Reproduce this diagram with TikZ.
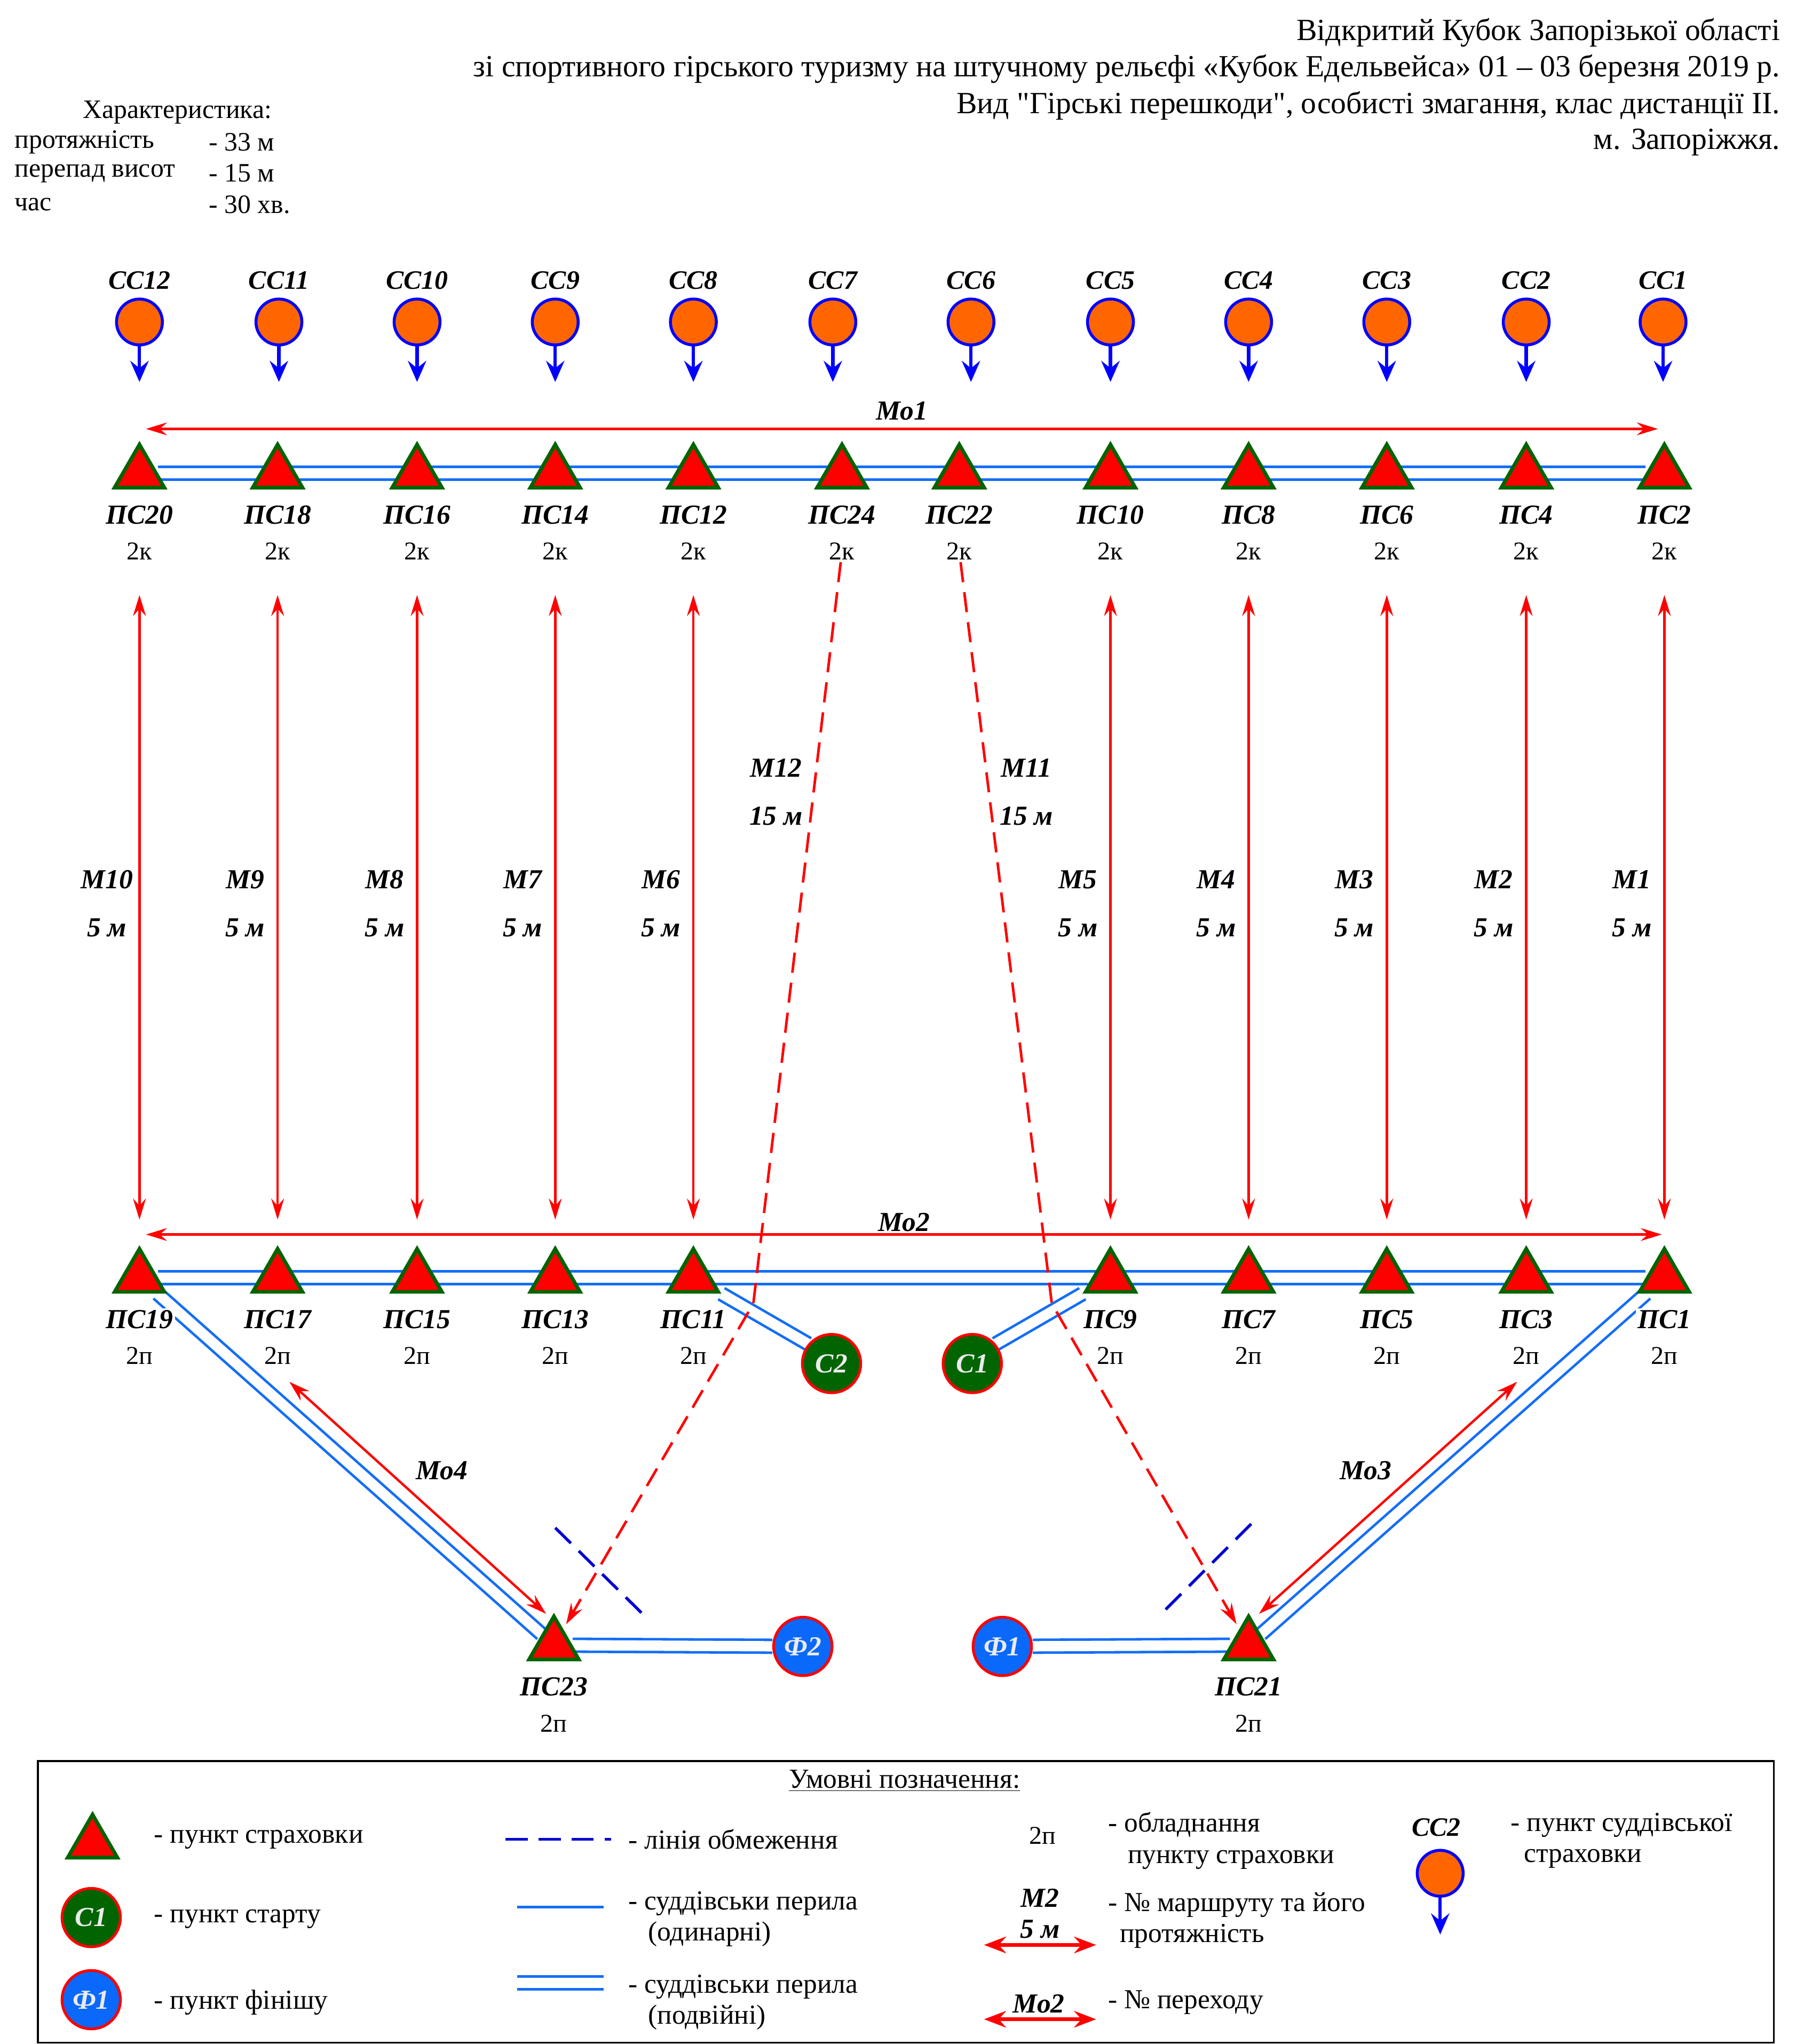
\documentclass[tikz,border=0pt]{standalone}
\usepackage{fontspec}
\setmainfont{Liberation Serif}
\newfontfamily\plainrm{Liberation Serif}
\usepackage{tikz}
\usepackage{xcolor}
\usetikzlibrary{shapes.geometric,arrows.meta,backgrounds}
\definecolor{railblue}{RGB}{20,110,245}
\definecolor{dkgreen}{RGB}{0,100,0}
\definecolor{ccorange}{RGB}{255,102,0}
\definecolor{finblue}{RGB}{10,105,250}
\definecolor{limblue}{RGB}{0,0,210}
\definecolor{pale}{RGB}{235,235,235}
\tikzstyle{belay} = [regular polygon,
                     regular polygon sides=3,
                     minimum size=1.1cm,
                     inner sep=0pt,
                     draw=dkgreen,
                     line width=2pt,
                     fill=red]
\tikzstyle{judge} = [circle,
                     minimum size=0.88cm,
                     inner sep=0pt,
                     draw=blue,
                     line width=1.6pt,
                     fill=ccorange]
\tikzstyle{startpt} = [circle,
                       minimum size=1.12cm,
                       inner sep=0pt,
                       draw=red,
                       line width=1.5pt,
                       fill=dkgreen,
                       text=pale,
                       font=\bfseries\itshape\fontsize{15}{18}\selectfont]
\tikzstyle{finishpt} = [startpt,
                        fill=finblue]
\tikzstyle{pslabel} = [font=\bfseries\itshape\fontsize{15}{18}\selectfont,
                       fill=white,
                       inner sep=1pt]
\tikzstyle{equip} = [font=\fontsize{14}{17}\selectfont,
                     fill=white,
                     inner sep=1pt]
\tikzstyle{head} = [font=\fontsize{14.5}{17}\selectfont,
                    anchor=west,
                    inner sep=0pt]
\tikzstyle{cclabel} = [font=\bfseries\itshape\fontsize{14.5}{17}\selectfont]
\tikzstyle{mlabel} = [font=\bfseries\itshape\fontsize{15}{26.3}\selectfont,
                      text=black,
                      align=center]
\tikzstyle{molabel} = [font=\bfseries\itshape\fontsize{15}{18}\selectfont,
                       text=black]
\tikzstyle{rail} = [draw=railblue,
                    line width=1.4pt,
                    double=white,
                    double distance=5.6pt]
\tikzstyle{arrow} = [red,
                     line width=1.3pt,
                     <->,
                     >={Stealth[length=11.5pt,width=7pt,inset=4pt]}]
\tikzstyle{route} = [red,
                     line width=1.4pt,
                     dash pattern=on 11pt off 5.5pt,
                     ->,
                     >={Stealth[length=11.5pt,width=7pt,inset=4pt]}]
\tikzstyle{ccarrow} = [blue,
                       line width=1.8pt,
                       ->,
                       >={Stealth[length=11.5pt,width=10pt,inset=4pt]}]
\tikzstyle{limit} = [limblue,
                     line width=1.6pt,
                     dash pattern=on 12pt off 6pt]
\tikzstyle{legtext} = [font=\fontsize{15}{17}\selectfont,
                       anchor=west,
                       inner sep=0pt,
                       align=left]
\tikzstyle{legarrow} = [red,
                        line width=2.1pt,
                        <->,
                        >={Stealth[length=12pt,width=9pt,inset=4pt]}]

\begin{document}
\begin{tikzpicture}[x=0.025cm, y=-0.025cm, node distance=0.7cm]
    \useasboundingbox (0,0) rectangle (1384,1568);

    % heading
    \node (title1) [anchor=east, inner sep=0pt, font=\plainrm\fontsize{16.8}{20}\selectfont] at (1366,25)  {Відкритий Кубок Запорізької області};
    \node (title2) [anchor=east, inner sep=0pt, font=\plainrm\fontsize{16.8}{20}\selectfont] at (1366,53)  {зі спортивного гірського туризму на штучному рельєфі «Кубок Едельвейса» 01 – 03 березня 2019 р.};
    \node (title3) [anchor=east, inner sep=0pt, font=\plainrm\fontsize{16.8}{20}\selectfont] at (1366,81)  {Вид "Гірські перешкоди", особисті змагання, клас дистанції ІІ.};
    \node (title4) [anchor=east, inner sep=0pt, font=\plainrm\fontsize{16.8}{20}\selectfont] at (1366,109) {м. Запоріжжя.};

    \node (char)  [font=\fontsize{14.5}{17}\selectfont] at (136,86) {Характеристика:};
    \node (len)   [head] at (11,109)  {протяжність};
    \node (lenv)  [head] at (160,109) {- 33 м};
    \node (drop)  [head] at (11,133)  {перепад висот};
    \node (dropv) [head] at (160,133) {- 15 м};
    \node (time)  [head] at (11,157)  {час};
    \node (timev) [head] at (160,157) {- 30 хв.};

    % judges
    \node (cc12) [judge] at (107,247)  {};
    \node (cc11) [judge] at (214,247)  {};
    \node (cc10) [judge] at (320,247)  {};
    \node (cc9)  [judge] at (426,247)  {};
    \node (cc8)  [judge] at (532,247)  {};
    \node (cc7)  [judge] at (639,247)  {};
    \node (cc6)  [judge] at (745,247)  {};
    \node (cc5)  [judge] at (852,247)  {};
    \node (cc4)  [judge] at (958,247)  {};
    \node (cc3)  [judge] at (1064,247) {};
    \node (cc2)  [judge] at (1171,247) {};
    \node (cc1)  [judge] at (1276,247) {};

    \node (n12) [cclabel, above of=cc12, yshift=0.1cm] {СС12};
    \node (n11) [cclabel, above of=cc11, yshift=0.1cm] {СС11};
    \node (n10) [cclabel, above of=cc10, yshift=0.1cm] {СС10};
    \node (n9)  [cclabel, above of=cc9,  yshift=0.1cm] {СС9};
    \node (n8)  [cclabel, above of=cc8,  yshift=0.1cm] {СС8};
    \node (n7)  [cclabel, above of=cc7,  yshift=0.1cm] {СС7};
    \node (n6)  [cclabel, above of=cc6,  yshift=0.1cm] {СС6};
    \node (n5)  [cclabel, above of=cc5,  yshift=0.1cm] {СС5};
    \node (n4)  [cclabel, above of=cc4,  yshift=0.1cm] {СС4};
    \node (n3)  [cclabel, above of=cc3,  yshift=0.1cm] {СС3};
    \node (n2)  [cclabel, above of=cc2,  yshift=0.1cm] {СС2};
    \node (n1)  [cclabel, above of=cc1,  yshift=0.1cm] {СС1};

    \coordinate (t12) at (107,293);
    \coordinate (t11) at (214,293);
    \coordinate (t10) at (320,293);
    \coordinate (t9)  at (426,293);
    \coordinate (t8)  at (532,293);
    \coordinate (t7)  at (639,293);
    \coordinate (t6)  at (745,293);
    \coordinate (t5)  at (852,293);
    \coordinate (t4)  at (958,293);
    \coordinate (t3)  at (1064,293);
    \coordinate (t2)  at (1171,293);
    \coordinate (t1)  at (1276,293);

    % upper points
    \node (ps20) [belay] at (107,363)  {};
    \node (ps18) [belay] at (213,363)  {};
    \node (ps16) [belay] at (320,363)  {};
    \node (ps14) [belay] at (426,363)  {};
    \node (ps12) [belay] at (532,363)  {};
    \node (ps24) [belay] at (646,363)  {};
    \node (ps22) [belay] at (736,363)  {};
    \node (ps10) [belay] at (852,363)  {};
    \node (ps8)  [belay] at (958,363)  {};
    \node (ps6)  [belay] at (1064,363) {};
    \node (ps4)  [belay] at (1171,363) {};
    \node (ps2)  [belay] at (1277,363) {};

    \node (l20) [pslabel, below of=ps20, yshift=-0.1cm] {ПС20};
    \node (l18) [pslabel, below of=ps18, yshift=-0.1cm] {ПС18};
    \node (l16) [pslabel, below of=ps16, yshift=-0.1cm] {ПС16};
    \node (l14) [pslabel, below of=ps14, yshift=-0.1cm] {ПС14};
    \node (l12) [pslabel, below of=ps12, yshift=-0.1cm] {ПС12};
    \node (l24) [pslabel, below of=ps24, yshift=-0.1cm] {ПС24};
    \node (l22) [pslabel, below of=ps22, yshift=-0.1cm] {ПС22};
    \node (l10) [pslabel, below of=ps10, yshift=-0.1cm] {ПС10};
    \node (l8)  [pslabel, below of=ps8,  yshift=-0.1cm] {ПС8};
    \node (l6)  [pslabel, below of=ps6,  yshift=-0.1cm] {ПС6};
    \node (l4)  [pslabel, below of=ps4,  yshift=-0.1cm] {ПС4};
    \node (l2)  [pslabel, below of=ps2,  yshift=-0.1cm] {ПС2};

    \node (k20) [equip, below of=l20] {2к};
    \node (k18) [equip, below of=l18] {2к};
    \node (k16) [equip, below of=l16] {2к};
    \node (k14) [equip, below of=l14] {2к};
    \node (k12) [equip, below of=l12] {2к};
    \node (k24) [equip, below of=l24] {2к};
    \node (k22) [equip, below of=l22] {2к};
    \node (k10) [equip, below of=l10] {2к};
    \node (k8)  [equip, below of=l8]  {2к};
    \node (k6)  [equip, below of=l6]  {2к};
    \node (k4)  [equip, below of=l4]  {2к};
    \node (k2)  [equip, below of=l2]  {2к};

    % lower points
    \node (ps19) [belay] at (107,980)  {};
    \node (ps17) [belay] at (213,980)  {};
    \node (ps15) [belay] at (320,980)  {};
    \node (ps13) [belay] at (426,980)  {};
    \node (ps11) [belay] at (532,980)  {};
    \node (ps9)  [belay] at (852,980)  {};
    \node (ps7)  [belay] at (958,980)  {};
    \node (ps5)  [belay] at (1064,980) {};
    \node (ps3)  [belay] at (1171,980) {};
    \node (ps1)  [belay] at (1277,980) {};
    \node (ps23) [belay] at (425,1262) {};
    \node (ps21) [belay] at (958,1262) {};

    \node (l19) [pslabel, below of=ps19, yshift=-0.1cm] {ПС19};
    \node (l17) [pslabel, below of=ps17, yshift=-0.1cm] {ПС17};
    \node (l15) [pslabel, below of=ps15, yshift=-0.1cm] {ПС15};
    \node (l13) [pslabel, below of=ps13, yshift=-0.1cm] {ПС13};
    \node (l11) [pslabel, below of=ps11, yshift=-0.1cm] {ПС11};
    \node (l9)  [pslabel, below of=ps9,  yshift=-0.1cm] {ПС9};
    \node (l7)  [pslabel, below of=ps7,  yshift=-0.1cm] {ПС7};
    \node (l5)  [pslabel, below of=ps5,  yshift=-0.1cm] {ПС5};
    \node (l3)  [pslabel, below of=ps3,  yshift=-0.1cm] {ПС3};
    \node (l1)  [pslabel, below of=ps1,  yshift=-0.1cm] {ПС1};
    \node (l23) [pslabel, below of=ps23, yshift=-0.1cm] {ПС23};
    \node (l21) [pslabel, below of=ps21, yshift=-0.1cm] {ПС21};

    \node (p19) [equip, below of=l19] {2п};
    \node (p17) [equip, below of=l17] {2п};
    \node (p15) [equip, below of=l15] {2п};
    \node (p13) [equip, below of=l13] {2п};
    \node (p11) [equip, below of=l11] {2п};
    \node (p9)  [equip, below of=l9]  {2п};
    \node (p7)  [equip, below of=l7]  {2п};
    \node (p5)  [equip, below of=l5]  {2п};
    \node (p3)  [equip, below of=l3]  {2п};
    \node (p1)  [equip, below of=l1]  {2п};
    \node (p23) [equip, below of=l23] {2п};
    \node (p21) [equip, below of=l21] {2п};

    \node (c2) [startpt]  at (638,1046) {С2};
    \node (c1) [startpt]  at (746,1046) {С1};
    \node (f2) [finishpt] at (616,1263) {Ф2};
    \node (f1) [finishpt] at (769,1263) {Ф1};

    \coordinate (b12) at (578,1000);
    \coordinate (b11) at (807,1000);
    \coordinate (mo1a) at (112,329);
    \coordinate (mo1b) at (1272,329);
    \coordinate (mo2a) at (112,947);
    \coordinate (mo2b) at (1275,947);
    \coordinate (mo4a) at (222,1060);
    \coordinate (mo4b) at (419,1238);
    \coordinate (mo3a) at (1164,1060);
    \coordinate (mo3b) at (966,1238);

    % rails
    \begin{pgfonlayer}{background}
        \draw [rail] (ps19) -- (ps23);
        \draw [rail] (ps1)  -- (ps21);
        \draw [rail] (ps11) -- (c2.140);
        \draw [rail] (ps9)  -- (c1.40);
        \draw [rail] (ps23) -- (f2);
        \draw [rail] (f1)   -- (ps21);
        \draw [rail] (ps20) -- (ps2);
        \draw [rail] (ps19) -- (ps1);
    \end{pgfonlayer}

    \draw [limit] (426,1172) -- (494,1239);
    \draw [limit] (960,1169) -- (891,1238);

    \draw [ccarrow] (cc12) -- (t12);
    \draw [ccarrow] (cc11) -- (t11);
    \draw [ccarrow] (cc10) -- (t10);
    \draw [ccarrow] (cc9)  -- (t9);
    \draw [ccarrow] (cc8)  -- (t8);
    \draw [ccarrow] (cc7)  -- (t7);
    \draw [ccarrow] (cc6)  -- (t6);
    \draw [ccarrow] (cc5)  -- (t5);
    \draw [ccarrow] (cc4)  -- (t4);
    \draw [ccarrow] (cc3)  -- (t3);
    \draw [ccarrow] (cc2)  -- (t2);
    \draw [ccarrow] (cc1)  -- (t1);

    \draw [arrow] (mo1a) -- node[molabel, above, inner sep=4pt] {Мо1} (mo1b);
    \draw [arrow] (mo2a) -- node[molabel, above, inner sep=1pt] {Мо2} (mo2b);
    \draw [arrow] (mo4a) -- node[molabel, xshift=0.46cm, yshift=0.52cm] {Мо4} (mo4b);
    \draw [arrow] (mo3a) -- node[molabel, xshift=-0.43cm, yshift=0.52cm] {Мо3} (mo3b);

    \draw [arrow, shorten <=0.63cm, shorten >=0.49cm] (k20) -- node[mlabel, xshift=-0.625cm] {М10\\5 м} (ps19);
    \draw [arrow, shorten <=0.63cm, shorten >=0.49cm] (k18) -- node[mlabel, xshift=-0.625cm] {М9\\5 м} (ps17);
    \draw [arrow, shorten <=0.63cm, shorten >=0.49cm] (k16) -- node[mlabel, xshift=-0.625cm] {М8\\5 м} (ps15);
    \draw [arrow, shorten <=0.63cm, shorten >=0.49cm] (k14) -- node[mlabel, xshift=-0.625cm] {М7\\5 м} (ps13);
    \draw [arrow, shorten <=0.63cm, shorten >=0.49cm] (k12) -- node[mlabel, xshift=-0.625cm] {М6\\5 м} (ps11);
    \draw [arrow, shorten <=0.63cm, shorten >=0.49cm] (k10) -- node[mlabel, xshift=-0.625cm] {М5\\5 м} (ps9);
    \draw [arrow, shorten <=0.63cm, shorten >=0.49cm] (k8)  -- node[mlabel, xshift=-0.625cm] {М4\\5 м} (ps7);
    \draw [arrow, shorten <=0.63cm, shorten >=0.49cm] (k6)  -- node[mlabel, xshift=-0.625cm] {М3\\5 м} (ps5);
    \draw [arrow, shorten <=0.63cm, shorten >=0.49cm] (k4)  -- node[mlabel, xshift=-0.625cm] {М2\\5 м} (ps3);
    \draw [arrow, shorten <=0.63cm, shorten >=0.49cm] (k2)  -- node[mlabel, xshift=-0.625cm] {М1\\5 м} (ps1);

    \draw [route, shorten >=3pt] (k24) -- node[mlabel, pos=0.31, xshift=-0.72cm] {М12\\15 м} (b12) -- (ps23);
    \draw [route, shorten >=3pt] (k22) -- node[mlabel, pos=0.31, xshift=0.72cm] {М11\\15 м} (b11) -- (ps21);

    % legend
    \draw [line width=1pt] (29,1351) rectangle (1361,1567);
    \node (ltitle) [font=\fontsize{15}{17}\selectfont] at (694,1366) {\underline{Умовні позначення:}};

    \node (ltri) [belay] at (71,1414) {};
    \node (ltrit) [legtext] at (118,1411) {- пункт страховки};
    \node (lc1) [startpt] at (70,1471) {С1};
    \node (lc1t) [legtext] at (118,1472) {- пункт старту};
    \node (lf1) [finishpt] at (70,1534) {Ф1};
    \node (lf1t) [legtext] at (118,1536) {- пункт фінішу};

    \draw [limit] (388,1411) -- (469,1411);
    \node (llimt) [legtext] at (482,1411) {- лінія обмеження};
    \draw [draw=railblue, line width=1.4pt] (397,1463) -- (463,1463);
    \node (lonet) [legtext] at (482,1472) {- суддівськи перила\\\hspace*{0.375cm}(одинарні)};
    \draw [rail] (397,1521) -- (463,1521);
    \node (ltwot) [legtext] at (482,1536) {- суддівськи перила\\\hspace*{0.375cm}(подвійні)};

    \node (lequip) [font=\fontsize{14}{17}\selectfont] at (800,1408) {2п};
    \node (lequipt) [legtext] at (850,1412) {- обладнання\\\hspace*{0.375cm}пункту страховки};
    \node (lm2) [font=\bfseries\itshape\fontsize{15}{17}\selectfont, align=center] at (798,1468) {М2\\5 м};
    \coordinate (lma) at (755,1492);
    \coordinate (lmb) at (841,1492);
    \draw [legarrow] (lma) -- (lmb);
    \node (lm2t) [legtext] at (850,1473) {- № маршруту та його\\\hspace*{0.225cm}протяжність};
    \node (lmo2) [molabel] at (797,1537) {Мо2};
    \coordinate (lmoa) at (755,1549);
    \coordinate (lmob) at (841,1549);
    \draw [legarrow] (lmoa) -- (lmob);
    \node (lmo2t) [legtext] at (850,1536) {- № переходу};

    \node (lcc) [cclabel] at (1102,1402) {СС2};
    \node (lccc) [judge] at (1105,1437) {};
    \coordinate (lcct) at (1105,1484);
    \draw [ccarrow] (lccc) -- (lcct);
    \node (lcct2) [legtext] at (1159,1412) {- пункт суддівської\\\hspace*{0.25cm}страховки};

  \end{tikzpicture}
\end{document}
